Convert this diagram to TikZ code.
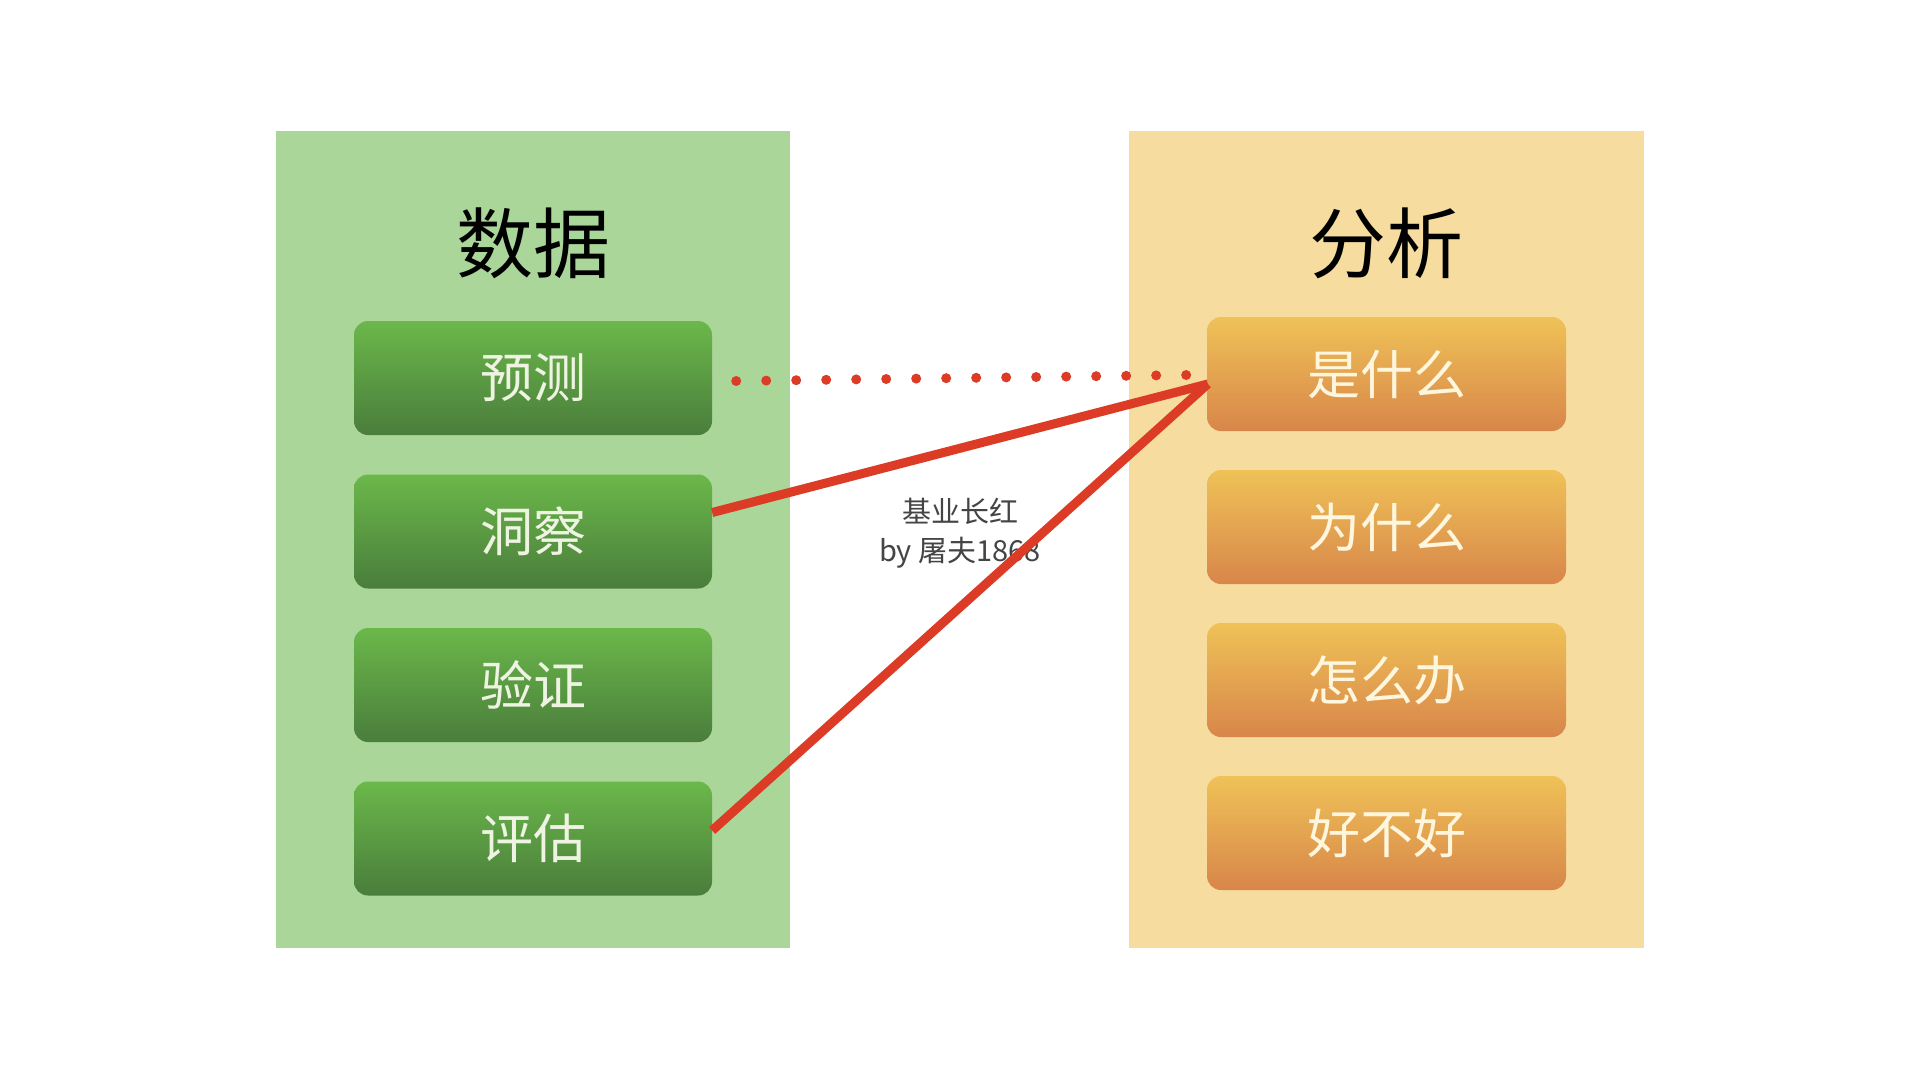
\documentclass[tikz,border=0pt]{standalone}
\usepackage{fontspec}
\setmainfont{Noto Sans CJK SC}
\usetikzlibrary{calc}
\definecolor{gpanel}{HTML}{AAD69A}
\definecolor{opanel}{HTML}{F6DC9E}
\definecolor{gtop}{HTML}{6BB84A}
\definecolor{gbot}{HTML}{4A7D3C}
\definecolor{otop}{HTML}{EFC257}
\definecolor{obot}{HTML}{D8864A}
\definecolor{gtext}{HTML}{EEF3E2}
\definecolor{otext}{HTML}{FFF6DE}
\definecolor{redc}{HTML}{DC3B26}
\definecolor{marktext}{HTML}{444444}
\begin{document}
\begin{tikzpicture}[x=1pt,y=-1pt,
  panel/.style={draw=none,inner sep=0pt,anchor=north west},
  title/.style={text=black,font=\fontsize{77}{80}\selectfont,inner sep=0pt},
  databox/.style={rounded corners=14pt,top color=gtop,bottom color=gbot,draw=none,
    minimum width=358pt,minimum height=114pt,inner sep=0pt,text=gtext,
    font=\fontsize{53}{58}\selectfont},
  anabox/.style={rounded corners=14pt,top color=otop,bottom color=obot,draw=none,
    minimum width=359pt,minimum height=114pt,inner sep=0pt,text=otext,
    font=\fontsize{53}{58}\selectfont},
  redline/.style={draw=redc,line width=9pt},
  dotline/.style={draw=redc,line width=10pt,line cap=round,dash pattern=on 0pt off 30pt},
  wmtext/.style={text=marktext,font=\fontsize{29}{32}\selectfont,inner sep=0pt}
]
\useasboundingbox[fill=white] (0,0) rectangle (1920,1080);
% panels
\node[panel,fill=gpanel,minimum width=514.5pt,minimum height=817pt] (gp) at (275.5,131) {};
\node[panel,fill=opanel,minimum width=514.5pt,minimum height=817pt] (op) at (1129,131) {};
% titles
\node[title] (t1) at (533,243) {数据};
\node[title] (t2) at (1386,243) {分析};
% data boxes
\node[databox] (d1) at (533,378) {预测};
\node[databox] (d2) at (533,531.5) {洞察};
\node[databox] (d3) at (533,685) {验证};
\node[databox] (d4) at (533,838.5) {评估};
% analysis boxes
\node[anabox] (a1) at (1386.5,374) {是什么};
\node[anabox] (a2) at (1386.5,527) {为什么};
\node[anabox] (a3) at (1386.5,680) {怎么办};
\node[anabox] (a4) at (1386.5,833) {好不好};
% watermark
\node[wmtext] (m1) at (960,511) {基业长红};
\node[wmtext] (m2) at (960,553) {by 屠夫1868};
% connectors
\coordinate (apex) at ($(a1.west)+(1,10)$);
\coordinate (dstart) at ($(d1.east)+(24,3)$);
\coordinate (dend) at ($(a1.west)+(-20.5,1)$);
\draw[dotline] (dstart) -- (dend);
\draw[redline] ($(d2.east)+(0,-19)$) -- (apex);
\draw[redline] ($(d4.east)+(0,-8)$) -- (apex);
\end{tikzpicture}
\end{document}
